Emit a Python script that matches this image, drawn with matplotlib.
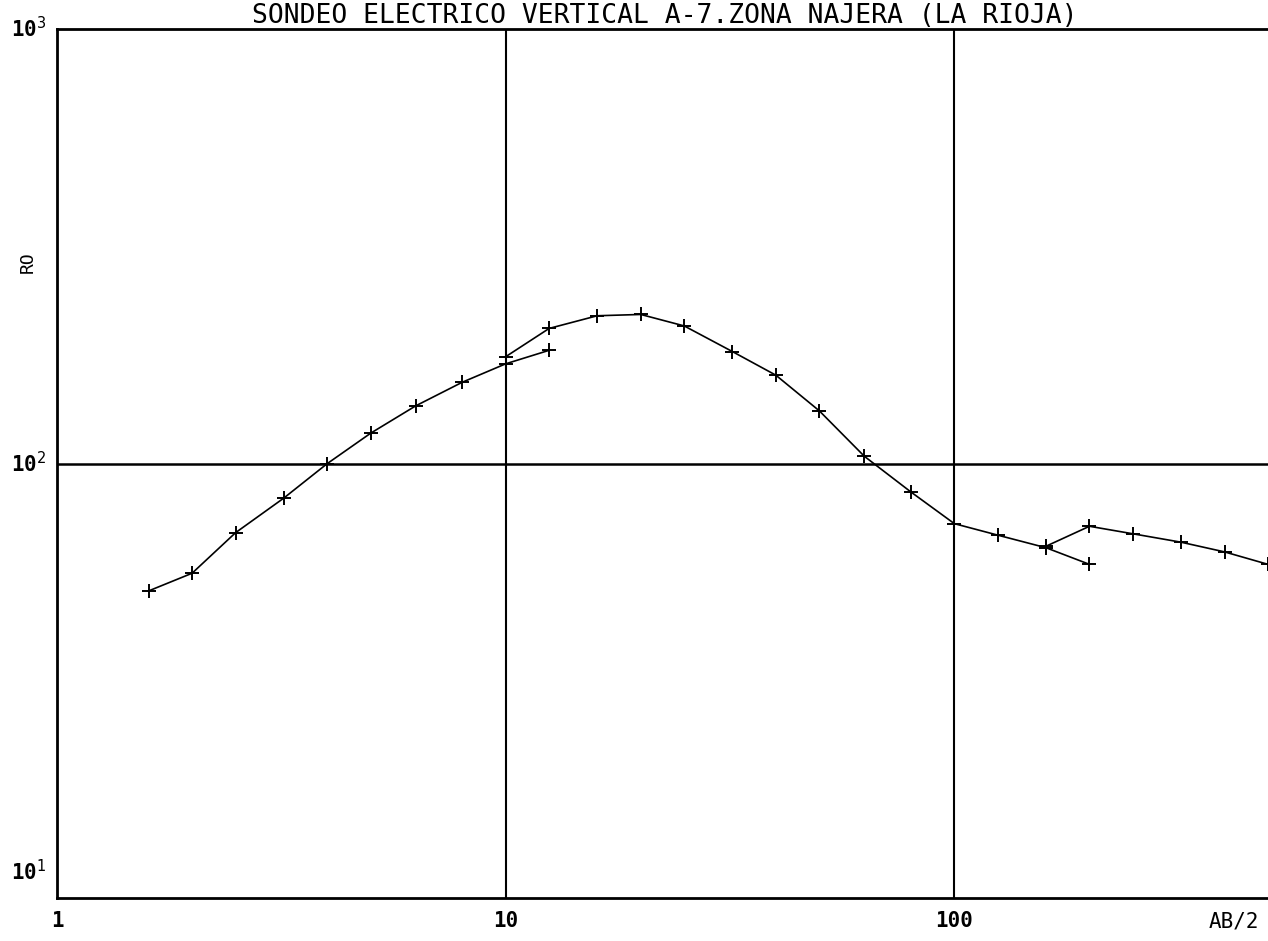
import matplotlib
matplotlib.use("Agg")
import matplotlib.pyplot as plt
from matplotlib.transforms import blended_transform_factory

# ---- data (AB/2 in m, apparent resistivity RO) ----
ab2_a = [1.6, 2.0, 2.5, 3.2, 4.0, 5.0, 6.3, 8.0, 10.0, 12.5]
ro_a = [50.9, 55.9, 69.3, 83.2, 99.9, 117.4, 135.7, 153.8, 169.6, 182.2]

ab2_b = [10.0, 12.5, 16.0, 20.0, 25.0, 32.0, 40.0, 50.0, 63.0, 80.0, 100.0, 125.0, 160.0, 200.0]
ro_b = [176.1, 204.6, 218.8, 220.3, 207.3, 181.0, 159.7, 132.2, 103.9, 86.0, 72.7, 68.4, 64.0, 58.6]

ab2_c = [160.0, 200.0, 250.0, 320.0, 400.0, 500.0]
ro_c = [64.5, 71.7, 68.9, 65.9, 62.6, 58.6]

x_ticks = [1, 10, 100]
x_tick_labels = ["1", "10", "100"]
y_ticks = [10, 100, 1000]
y_tick_labels = ["10$^{1}$", "10$^{2}$", "10$^{3}$"]

title = "SONDEO ELECTRICO VERTICAL A-7.ZONA NAJERA (LA RIOJA)"
x_label = "AB/2"
y_label = "RO"

mono = "DejaVu Sans Mono"

fig = plt.figure(figsize=(12.68, 9.41), dpi=100)
ax = fig.add_axes([57 / 1268, 1 - 898 / 941, 1 - 57 / 1268, (898 - 29) / 941])
ax.set_xscale("log")
ax.set_yscale("log")
ax.set_xlim(1, 500)
ax.set_ylim(10, 1000)

for s in ["left", "bottom", "top"]:
    ax.spines[s].set_linewidth(2.0)
ax.spines["right"].set_visible(False)

# grid lines at decades
for xv in [10, 100]:
    ax.axvline(xv, color="black", lw=1.5, zorder=1)
ax.axhline(100, color="black", lw=1.8, zorder=1)

kw = dict(color="black", lw=1.2, marker="+", ms=10, mew=1.4, clip_on=True, zorder=3)
ax.plot(ab2_a, ro_a, **kw)
ax.plot(ab2_b, ro_b, **kw)
ax.plot(ab2_c, ro_c, **kw)

ax.set_xticks([])
ax.set_yticks([])
ax.minorticks_off()

# x tick labels
tr_x = blended_transform_factory(ax.transData, ax.transAxes)
for xv, lab in zip(x_ticks, x_tick_labels):
    ax.text(xv, -0.015, lab, transform=tr_x, ha="center", va="top",
            family=mono, fontsize=15, fontweight="bold")
ax.text(0.972, -0.015, x_label, transform=ax.transAxes, ha="center", va="top",
        family=mono, fontsize=15)

# y tick labels
tr_y = blended_transform_factory(ax.transAxes, ax.transData)
y_offsets = [19, 0, 0]
for yv, lab, off in zip(y_ticks, y_tick_labels, y_offsets):
    ax.annotate(lab, xy=(0, yv), xycoords=tr_y, xytext=(-8, off),
                textcoords="offset points", ha="right", va="center",
                family=mono, fontsize=15, fontweight="bold", annotation_clip=False)

ax.text(-0.024, 290, y_label, transform=tr_y, rotation=90, ha="center", va="center",
        family=mono, fontsize=13)

fig.text(0.524, 1 - 16 / 941, title, ha="center", va="center", family=mono, fontsize=19)

fig.savefig("out.png", dpi=100, facecolor="white")
